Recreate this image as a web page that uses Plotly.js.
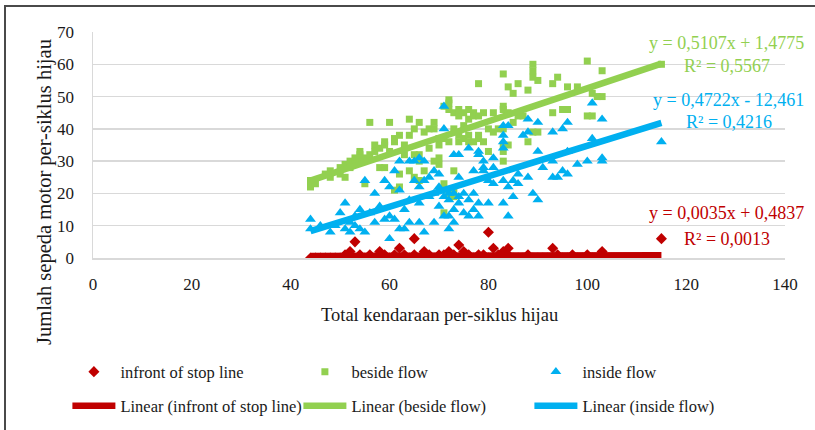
<!DOCTYPE html>
<html>
<head>
<meta charset="utf-8">
<script src="https://cdn.plot.ly/plotly-3.0.1.min.js"></script>
<style>
  html, body { margin: 0; padding: 0; background: #ffffff; }
  #wrap { position: relative; width: 815px; height: 430px; overflow: hidden; }
  #chart { position: absolute; left: 0; top: 0; width: 815px; height: 430px; }
  #frame { position: absolute; left: 4px; top: 5px; width: 830px; height: 440px;
           border-left: 2px solid #4a4a4a; border-top: 2px solid #4a4a4a; pointer-events: none; }
</style>
</head>
<body>
<div id="wrap">
  <div id="chart"></div>
  <div id="frame"></div>
</div>
<script>
// Sepeda motor per siklus hijau vs total kendaraan per siklus hijau

// infront of stop line
const stopX = [44,45,46,47,48,49,50,51,52,52,53,53,54,55,56,57,58,58,59,60,61,62,62,63,64,65,65,66,67,67,68,69,70,70,71,72,72,73,73,74,74,75,75,76,77,78,78,79,80,80,81,81,82,83,83,84,84,85,86,87,88,89,90,91,92,93,93,94,95,96,97,98,99,100,101,102,103,103,115];
const stopY = [0,0,0,0,0,0,0,1,2,0,5,0,1,0,1,0,2,0,1,0,1,3,0,1,0,6,1,0,2,0,1,0,1,0,1,0,2,1,0,4,0,2,0,1,0,1,0,1,8,0,3,0,1,2,0,3,1,0,0,0,1,0,0,0,0,3,0,1,0,0,1,0,0,1,0,0,2,1,6];

// beside flow
const besideX = [44,44,45,47,48,48,50,50,51,51,52,52,53,53,54,54,54,55,55,56,56,57,57,58,58,59,59,59,60,60,61,61,61,62,62,62,63,63,64,64,64,65,65,65,66,66,66,66,67,67,68,68,69,69,69,70,70,70,70,71,71,71,71,72,72,72,72,72,73,73,73,73,73,74,74,74,74,75,75,75,76,76,76,76,77,77,77,78,78,78,78,79,79,80,80,81,81,82,83,83,83,83,83,83,83,84,84,84,85,85,86,86,87,88,88,89,89,89,89,90,90,93,93,94,95,96,96,98,100,100,101,101,102,103,103,115];
const besideY = [22,24,23,26,27,25,26,28,25,29,28,30,31,29,30,32,33,23,31,32,42,35,33,34,28,28,35,36,42,33,21,36,37,22,26,38,32,35,27,43,38,25,32,40,24,30,42,32,27,39,34,40,30,40,42,29,31,35,37,23,14,37,47,20,46,49,48,36,19,21,27,40,45,36,44,46,38,37,45,41,38,43,36,46,36,45,44,54,37,38,44,36,45,33,40,39,45,40,30,33,35,40,46,47,57,35,45,53,51,42,44,54,44,36,52,39,56,58,60,39,55,45,54,56,46,46,53,53,61,44,51,44,50,58,50,60];

// inside flow
const insideX = [44,44,46,48,49,50,51,51,52,52,53,53,54,54,55,55,56,57,57,58,59,59,60,60,60,61,61,62,62,62,63,63,64,64,64,65,65,66,66,66,66,67,67,67,68,68,69,69,69,70,70,70,71,71,71,71,72,72,72,72,73,73,73,73,74,74,74,74,75,75,76,76,76,77,77,77,78,78,78,78,79,79,79,80,80,81,81,81,83,83,83,83,83,83,84,84,84,85,85,86,86,87,88,88,88,89,90,90,90,91,93,93,93,94,95,95,96,96,96,98,100,101,101,103,103,103,115];
const insideY = [12,9,10,8,10,14,17,9,8,11,10,13,9,15,24,8,14,11,20,16,24,12,6,13,22,12,27,30,9,21,15,9,30,11,18,24,30,17,11,22,31,24,8,30,19,25,20,27,11,26,22,16,47,40,19,13,18,13,9,20,11,20,15,32,19,32,25,17,14,20,18,34,13,20,15,27,13,32,33,17,27,28,30,17,24,31,28,23,34,36,38,41,17,24,13,22,41,19,24,23,26,38,39,43,25,20,42,33,18,28,25,30,39,25,40,27,33,42,26,29,30,48,37,43,31,30,36];

// linear trendlines: y = slope * x + intercept
const seriesNames = ['infront of stop line', 'beside flow', 'inside flow'];
const slopes      = [0.0035, 0.5107, 0.4722];
const intercepts  = [0.4837, 1.4775, -12.461];
const rSquared    = ['0,0013', '0,5567', '0,4216'];
const eqTexts     = ['y = 0,0035x + 0,4837', 'y = 0,5107x + 1,4775', 'y = 0,4722x - 12,461'];
const colors      = ['#C00000', '#92D050', '#00B0F0'];
const symbols     = ['diamond', 'square', 'triangle-up'];
const markerSizes = [8.5, 7, 9.5];

const xsAll = [stopX, besideX, insideX];
const ysAll = [stopY, besideY, insideY];

const FONT = '"Liberation Serif", "Times New Roman", serif';

const traces = [];
for (let i = 0; i < 3; i++) {
  traces.push({
    type: 'scatter', mode: 'markers', name: seriesNames[i],
    x: xsAll[i], y: ysAll[i],
    marker: { color: colors[i], symbol: symbols[i], size: markerSizes[i], line: { width: 0 } },
    legend: 'legend', hoverinfo: 'x+y'
  });
}
for (let i = 0; i < 3; i++) {
  const xmin = Math.min(...xsAll[i]);
  const xmax = Math.max(...xsAll[i]);
  traces.push({
    type: 'scatter', mode: 'lines', name: 'Linear (' + seriesNames[i] + ')',
    x: [xmin, xmax],
    y: [slopes[i] * xmin + intercepts[i], slopes[i] * xmax + intercepts[i]],
    line: { color: colors[i], width: 6.5 },
    legend: 'legend2', hoverinfo: 'skip'
  });
}

// equation labels placed in data coordinates to the right of each line end
const eqPos = [
  { x: 128.2, y1: 13.8, y2: 6.0 },
  { x: 128.2, y1: 66.6, y2: 59.5 },
  { x: 128.6, y1: 49.0, y2: 42.0 }
];
const annotations = [];
for (let i = 0; i < 3; i++) {
  annotations.push({ x: eqPos[i].x, y: eqPos[i].y1, xref: 'x', yref: 'y', text: eqTexts[i],
    showarrow: false, font: { family: FONT, size: 18, color: colors[i] }, xanchor: 'center', yanchor: 'middle' });
  annotations.push({ x: eqPos[i].x, y: eqPos[i].y2, xref: 'x', yref: 'y', text: 'R² = ' + rSquared[i],
    showarrow: false, font: { family: FONT, size: 18, color: colors[i] }, xanchor: 'center', yanchor: 'middle' });
}
// axis titles
annotations.push({ x: 0.5, y: 0, xref: 'paper', yref: 'paper', yshift: -57, text: 'Total kendaraan per-siklus hijau',
  showarrow: false, font: { family: FONT, size: 18.5, color: '#1a1a1a' }, xanchor: 'center', yanchor: 'middle' });
annotations.push({ x: 0, y: 0.5, xref: 'paper', yref: 'paper', xshift: -49, yshift: -47, textangle: -90,
  text: 'Jumlah sepeda motor per-siklus hijau',
  showarrow: false, font: { family: FONT, size: 20.5, color: '#1a1a1a' }, xanchor: 'center', yanchor: 'middle' });

const legendCommon = {
  orientation: 'h', xanchor: 'left', yanchor: 'middle',
  font: { family: FONT, size: 16.5, color: '#1a1a1a' },
  entrywidth: 173, entrywidthmode: 'pixels', itemwidth: 43,
  bgcolor: 'rgba(0,0,0,0)', borderwidth: 0
};

const layout = {
  width: 815, height: 430,
  margin: { l: 93, r: 30, t: 32, b: 172, autoexpand: false },
  paper_bgcolor: '#ffffff', plot_bgcolor: '#ffffff',
  showlegend: true,
  xaxis: {
    range: [0, 140], dtick: 20, tick0: 0, showgrid: false, zeroline: false,
    showline: true, linecolor: '#D9D9D9', linewidth: 1.5, ticks: '', ticklabelstandoff: 10,
    tickfont: { family: FONT, size: 17, color: '#1a1a1a' }, fixedrange: true
  },
  yaxis: {
    range: [0, 70], dtick: 10, tick0: 0, showgrid: true, gridcolor: '#D9D9D9', gridwidth: 1.5,
    zeroline: false, showline: true, linecolor: '#D9D9D9', linewidth: 1.5, ticks: '', ticklabelstandoff: 14,
    tickfont: { family: FONT, size: 17, color: '#1a1a1a' }, fixedrange: true
  },
  legend: Object.assign({}, legendCommon, { x: -0.037, y: -0.504 }),
  legend2: Object.assign({}, legendCommon, { x: -0.037, y: -0.655 }),
  annotations: annotations
};

Plotly.newPlot('chart', traces, layout, { displayModeBar: false, staticPlot: true });
</script>
</body>
</html>
